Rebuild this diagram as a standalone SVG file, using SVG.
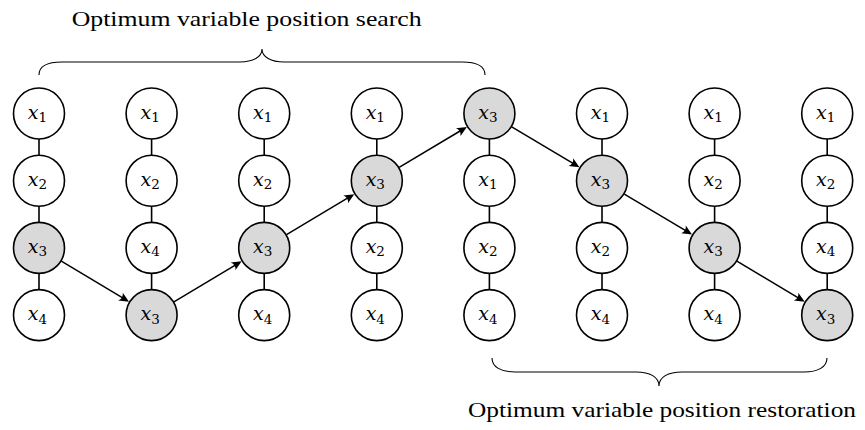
<svg xmlns="http://www.w3.org/2000/svg" width="865" height="430" viewBox="0 0 865 430">
  <style>
    .node circle { fill: #ffffff; stroke: #000000; stroke-width: 1.6; }
    .node.hl circle { fill: #d9d9d9; }
    .lbl { font-family: "DejaVu Serif", serif; font-style: italic; font-size: 19px; text-anchor: middle; fill: #000; }
    .sub { font-style: normal; font-size: 13.5px; }
    .edge { stroke: #000; stroke-width: 1.6; fill: none; }
    .arrow { stroke: #000; stroke-width: 1.5; fill: none; marker-end: url(#tip); }
    .brace { stroke: #000; stroke-width: 1.1; fill: none; }
    .caption { font-family: "Liberation Serif", "DejaVu Serif", serif; font-size: 22px; fill: #000; text-anchor: middle; }
  </style>
  <defs>
    <marker id="tip" viewBox="-7 -6 12 12" refX="0" refY="0" markerWidth="12" markerHeight="12" markerUnits="userSpaceOnUse" orient="auto">
      <path d="M4,0 L-6,-4.5 Q-2.5,0 -6,4.5 Z" fill="#000"/>
    </marker>
  </defs>

  <!-- captions and braces -->
  <text class="caption" x="246.7" y="26" textLength="350" lengthAdjust="spacingAndGlyphs">Optimum variable position search</text>
  <path class="brace" d="M39,75 C39,66 48,62 62,62 L240,62 C253,62 262,57 262,49 C262,57 271,62 284,62 L462,62 C476,62 485,66 485,75"/>
  <path class="brace" d="M492,358 C492,367 501,372 515,372 L636,372 C650,372 659,377 659,386 C659,377 668,372 682,372 L804,372 C818,372 827,367 827,358"/>
  <text class="caption" x="662" y="417" textLength="388" lengthAdjust="spacingAndGlyphs">Optimum variable position restoration</text>

  <!-- connectors -->
  <g id="connectors">
    <!-- column links -->
    <path class="edge" d="M39,139 V155.2 M39,206.2 V222.4 M39,273.4 V289.6"/>
    <path class="edge" d="M151.6,139 V155.2 M151.6,206.2 V222.4 M151.6,273.4 V289.6"/>
    <path class="edge" d="M264.2,139 V155.2 M264.2,206.2 V222.4 M264.2,273.4 V289.6"/>
    <path class="edge" d="M376.8,139 V155.2 M376.8,206.2 V222.4 M376.8,273.4 V289.6"/>
    <path class="edge" d="M489.4,139 V155.2 M489.4,206.2 V222.4 M489.4,273.4 V289.6"/>
    <path class="edge" d="M602,139 V155.2 M602,206.2 V222.4 M602,273.4 V289.6"/>
    <path class="edge" d="M714.6,139 V155.2 M714.6,206.2 V222.4 M714.6,273.4 V289.6"/>
    <path class="edge" d="M827.2,139 V155.2 M827.2,206.2 V222.4 M827.2,273.4 V289.6"/>
    <!-- moves of x3 -->
    <line class="arrow" x1="61.33" y1="261.22" x2="125.62" y2="299.60"/>
    <line class="arrow" x1="173.93" y1="301.78" x2="238.22" y2="263.40"/>
    <line class="arrow" x1="286.53" y1="234.58" x2="350.82" y2="196.20"/>
    <line class="arrow" x1="399.13" y1="167.38" x2="463.42" y2="129.00"/>
    <line class="arrow" x1="511.73" y1="126.82" x2="576.02" y2="165.20"/>
    <line class="arrow" x1="624.33" y1="194.02" x2="688.62" y2="232.40"/>
    <line class="arrow" x1="736.93" y1="261.22" x2="801.22" y2="299.60"/>
  </g>

  <!-- column 1 -->
  <g id="c1r1" class="node"><circle cx="39" cy="113.5" r="25.5"/><text class="lbl" x="37.5" y="118.5">x<tspan class="sub" dy="3.5">1</tspan></text></g>
  <g id="c1r2" class="node"><circle cx="39" cy="180.7" r="25.5"/><text class="lbl" x="37.5" y="185.7">x<tspan class="sub" dy="3.5">2</tspan></text></g>
  <g id="c1r3" class="node hl"><circle cx="39" cy="247.9" r="25.5"/><text class="lbl" x="37.5" y="252.9">x<tspan class="sub" dy="3.5">3</tspan></text></g>
  <g id="c1r4" class="node"><circle cx="39" cy="315.1" r="25.5"/><text class="lbl" x="37.5" y="320.1">x<tspan class="sub" dy="3.5">4</tspan></text></g>

  <!-- column 2 -->
  <g id="c2r1" class="node"><circle cx="151.6" cy="113.5" r="25.5"/><text class="lbl" x="150.1" y="118.5">x<tspan class="sub" dy="3.5">1</tspan></text></g>
  <g id="c2r2" class="node"><circle cx="151.6" cy="180.7" r="25.5"/><text class="lbl" x="150.1" y="185.7">x<tspan class="sub" dy="3.5">2</tspan></text></g>
  <g id="c2r3" class="node"><circle cx="151.6" cy="247.9" r="25.5"/><text class="lbl" x="150.1" y="252.9">x<tspan class="sub" dy="3.5">4</tspan></text></g>
  <g id="c2r4" class="node hl"><circle cx="151.6" cy="315.1" r="25.5"/><text class="lbl" x="150.1" y="320.1">x<tspan class="sub" dy="3.5">3</tspan></text></g>

  <!-- column 3 -->
  <g id="c3r1" class="node"><circle cx="264.2" cy="113.5" r="25.5"/><text class="lbl" x="262.7" y="118.5">x<tspan class="sub" dy="3.5">1</tspan></text></g>
  <g id="c3r2" class="node"><circle cx="264.2" cy="180.7" r="25.5"/><text class="lbl" x="262.7" y="185.7">x<tspan class="sub" dy="3.5">2</tspan></text></g>
  <g id="c3r3" class="node hl"><circle cx="264.2" cy="247.9" r="25.5"/><text class="lbl" x="262.7" y="252.9">x<tspan class="sub" dy="3.5">3</tspan></text></g>
  <g id="c3r4" class="node"><circle cx="264.2" cy="315.1" r="25.5"/><text class="lbl" x="262.7" y="320.1">x<tspan class="sub" dy="3.5">4</tspan></text></g>

  <!-- column 4 -->
  <g id="c4r1" class="node"><circle cx="376.8" cy="113.5" r="25.5"/><text class="lbl" x="375.3" y="118.5">x<tspan class="sub" dy="3.5">1</tspan></text></g>
  <g id="c4r2" class="node hl"><circle cx="376.8" cy="180.7" r="25.5"/><text class="lbl" x="375.3" y="185.7">x<tspan class="sub" dy="3.5">3</tspan></text></g>
  <g id="c4r3" class="node"><circle cx="376.8" cy="247.9" r="25.5"/><text class="lbl" x="375.3" y="252.9">x<tspan class="sub" dy="3.5">2</tspan></text></g>
  <g id="c4r4" class="node"><circle cx="376.8" cy="315.1" r="25.5"/><text class="lbl" x="375.3" y="320.1">x<tspan class="sub" dy="3.5">4</tspan></text></g>

  <!-- column 5 -->
  <g id="c5r1" class="node hl"><circle cx="489.4" cy="113.5" r="25.5"/><text class="lbl" x="487.9" y="118.5">x<tspan class="sub" dy="3.5">3</tspan></text></g>
  <g id="c5r2" class="node"><circle cx="489.4" cy="180.7" r="25.5"/><text class="lbl" x="487.9" y="185.7">x<tspan class="sub" dy="3.5">1</tspan></text></g>
  <g id="c5r3" class="node"><circle cx="489.4" cy="247.9" r="25.5"/><text class="lbl" x="487.9" y="252.9">x<tspan class="sub" dy="3.5">2</tspan></text></g>
  <g id="c5r4" class="node"><circle cx="489.4" cy="315.1" r="25.5"/><text class="lbl" x="487.9" y="320.1">x<tspan class="sub" dy="3.5">4</tspan></text></g>

  <!-- column 6 -->
  <g id="c6r1" class="node"><circle cx="602" cy="113.5" r="25.5"/><text class="lbl" x="600.5" y="118.5">x<tspan class="sub" dy="3.5">1</tspan></text></g>
  <g id="c6r2" class="node hl"><circle cx="602" cy="180.7" r="25.5"/><text class="lbl" x="600.5" y="185.7">x<tspan class="sub" dy="3.5">3</tspan></text></g>
  <g id="c6r3" class="node"><circle cx="602" cy="247.9" r="25.5"/><text class="lbl" x="600.5" y="252.9">x<tspan class="sub" dy="3.5">2</tspan></text></g>
  <g id="c6r4" class="node"><circle cx="602" cy="315.1" r="25.5"/><text class="lbl" x="600.5" y="320.1">x<tspan class="sub" dy="3.5">4</tspan></text></g>

  <!-- column 7 -->
  <g id="c7r1" class="node"><circle cx="714.6" cy="113.5" r="25.5"/><text class="lbl" x="713.1" y="118.5">x<tspan class="sub" dy="3.5">1</tspan></text></g>
  <g id="c7r2" class="node"><circle cx="714.6" cy="180.7" r="25.5"/><text class="lbl" x="713.1" y="185.7">x<tspan class="sub" dy="3.5">2</tspan></text></g>
  <g id="c7r3" class="node hl"><circle cx="714.6" cy="247.9" r="25.5"/><text class="lbl" x="713.1" y="252.9">x<tspan class="sub" dy="3.5">3</tspan></text></g>
  <g id="c7r4" class="node"><circle cx="714.6" cy="315.1" r="25.5"/><text class="lbl" x="713.1" y="320.1">x<tspan class="sub" dy="3.5">4</tspan></text></g>

  <!-- column 8 -->
  <g id="c8r1" class="node"><circle cx="827.2" cy="113.5" r="25.5"/><text class="lbl" x="825.7" y="118.5">x<tspan class="sub" dy="3.5">1</tspan></text></g>
  <g id="c8r2" class="node"><circle cx="827.2" cy="180.7" r="25.5"/><text class="lbl" x="825.7" y="185.7">x<tspan class="sub" dy="3.5">2</tspan></text></g>
  <g id="c8r3" class="node"><circle cx="827.2" cy="247.9" r="25.5"/><text class="lbl" x="825.7" y="252.9">x<tspan class="sub" dy="3.5">4</tspan></text></g>
  <g id="c8r4" class="node hl"><circle cx="827.2" cy="315.1" r="25.5"/><text class="lbl" x="825.7" y="320.1">x<tspan class="sub" dy="3.5">3</tspan></text></g>
</svg>
